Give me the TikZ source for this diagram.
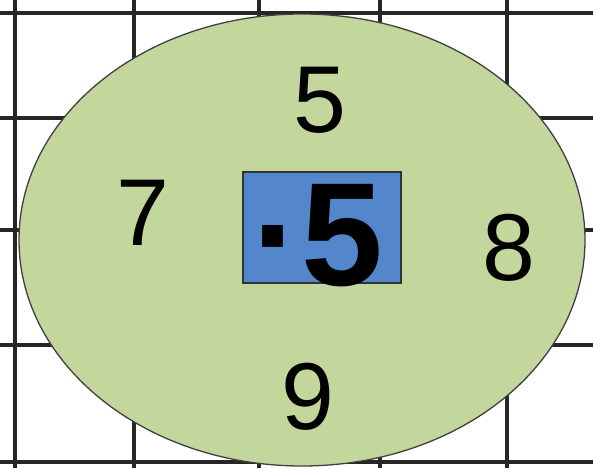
\documentclass[tikz,border=0pt]{standalone}
\usepackage{fontspec}
\setmainfont{Liberation Sans}
\definecolor{ovalgreen}{RGB}{195,214,155}
\definecolor{boxblue}{RGB}{84,134,204}
\begin{document}
\begin{tikzpicture}[x=1pt,y=1pt,
  gridline/.style={line width=3.2pt, draw=black!85},
  digit/.style={inner sep=0pt, font=\fontsize{95}{95}\selectfont, text=black},
  bigdigit/.style={inner sep=0pt, font=\fontsize{147}{147}\selectfont\bfseries, text=black}]
\useasboundingbox (0,0) rectangle (593,468);
\fill[white] (0,0) rectangle (593,468);
\foreach \x in {15,134,259,380,507} \draw[gridline] (\x,0) -- (\x,468);
\foreach \y in {13,118,230,345,462} \draw[gridline] (0,468-\y) -- (593,468-\y);
\draw[fill=ovalgreen, draw=black!75, line width=1.3pt] (302,228) ellipse [x radius=283, y radius=226];
\node[draw=black!80, line width=1.3pt, fill=boxblue, minimum width=158pt, minimum height=111pt, inner sep=0pt] (box) at (322,240.5) {};
\node[digit] (top) at (320,368) {5};
\node[digit] (left) at (143,255) {7};
\node[digit] (right) at (509,220) {8};
\node[digit] (bottom) at (308,71) {9};
\node[bigdigit, anchor=base] (mid) at (318,182) {·5};
\end{tikzpicture}
\end{document}
